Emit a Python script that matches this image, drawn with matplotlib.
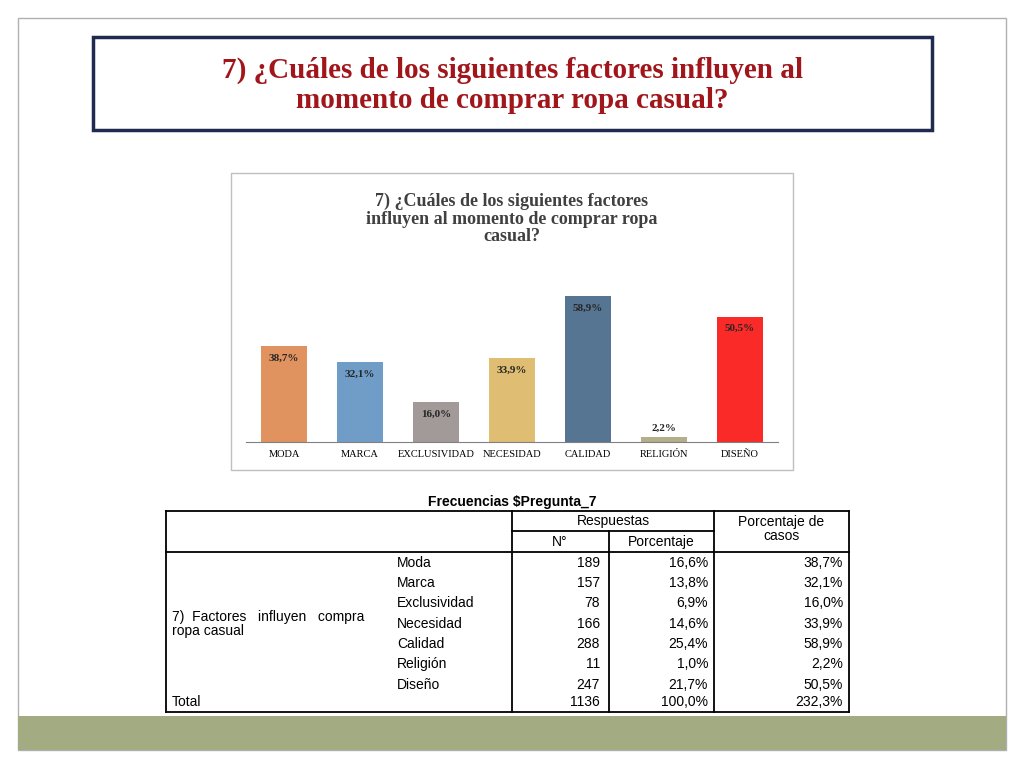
import matplotlib
matplotlib.use("Agg")
import matplotlib.pyplot as plt
from matplotlib.patches import Rectangle

categories = ["MODA", "MARCA", "EXCLUSIVIDAD", "NECESIDAD", "CALIDAD", "RELIGIÓN", "DISEÑO"]
pct_cases = [38.7, 32.1, 16.0, 33.9, 58.9, 2.2, 50.5]
pct_labels = ["38,7%", "32,1%", "16,0%", "33,9%", "58,9%", "2,2%", "50,5%"]
colors = ["#e0935f", "#6f9dc8", "#a19a98", "#dfbd72", "#557593", "#b4ae8a", "#fa2a28"]
row_names = ["Moda", "Marca", "Exclusividad", "Necesidad", "Calidad", "Religión", "Diseño"]
counts = ["189", "157", "78", "166", "288", "11", "247"]
resp_pct = ["16,6%", "13,8%", "6,9%", "14,6%", "25,4%", "1,0%", "21,7%"]
case_pct = ["38,7%", "32,1%", "16,0%", "33,9%", "58,9%", "2,2%", "50,5%"]
total = ["1136", "100,0%", "232,3%"]

W, H = 1024, 768
fig = plt.figure(figsize=(10.24, 7.68), dpi=100)
bg = fig.add_axes([0, 0, 1, 1])
bg.set_xlim(0, W); bg.set_ylim(H, 0); bg.axis("off")

bg.add_patch(Rectangle((18, 18), 988, 732, fill=False, ec="#b0b0b0", lw=1))
bg.add_patch(Rectangle((18, 716), 988, 34, fc="#a3ab82", ec="none"))

bg.add_patch(Rectangle((93, 37), 839, 93, fill=False, ec="#1f2a4e", lw=2.5))
bg.text(512, 85, "7) ¿Cuáles de los siguientes factores influyen al\nmomento de comprar ropa casual?",
        ha="center", va="center", fontsize=21, fontweight="bold", color="#a0161b",
        family="Liberation Serif", linespacing=1.15)

bg.add_patch(Rectangle((231, 173), 562, 297, fill=False, ec="#bfbfbf", lw=1))
bg.text(512, 219, "7) ¿Cuáles de los siguientes factores\ninfluyen al momento de comprar ropa\ncasual?",
        ha="center", va="center", fontsize=13, fontweight="bold", color="#404040",
        family="Liberation Serif", linespacing=1.05)

ax = fig.add_axes([246 / W, 1 - 442 / H, (778 - 246) / W, (442 - 250) / H])
x = list(range(len(categories)))
ax.bar(x, pct_cases, width=0.6, color=colors)
ax.set_xlim(-0.5, len(categories) - 0.5)
ax.set_ylim(0, 58.9 * (442 - 250) / (442 - 296))
for s in ["top", "right", "left"]:
    ax.spines[s].set_visible(False)
ax.spines["bottom"].set_color("#808080")
ax.set_yticks([])
ax.set_xticks(x)
ax.set_xticklabels(categories, fontsize=7.5, family="Liberation Serif")
ax.tick_params(axis="x", length=0, pad=6)
for xi, v, lab in zip(x, pct_cases, pct_labels):
    if v >= 5:
        ax.text(xi, v - 3, lab, ha="center", va="top", fontsize=8, fontweight="bold",
                family="Liberation Serif", color="#262626")
    else:
        ax.text(xi, v + 1.5, lab, ha="center", va="bottom", fontsize=8, fontweight="bold",
                family="Liberation Serif", color="#262626")
ax.patch.set_alpha(0)

tf = "Liberation Sans"
fs = 10
bg.text(512, 502, "Frecuencias $Pregunta_7", ha="center", va="center", fontsize=fs,
        fontweight="bold", family=tf)
lw = 1.3
top, hmid, hbot, bot = 511, 531, 552, 712
bg.plot([166, 849], [top, top], color="k", lw=lw)
bg.plot([166, 849], [bot, bot], color="k", lw=lw)
bg.plot([166, 849], [hbot, hbot], color="k", lw=lw)
bg.plot([512, 714], [hmid, hmid], color="k", lw=lw)
for xv in [166, 512, 714, 849]:
    bg.plot([xv, xv], [top, bot], color="k", lw=lw)
bg.plot([609, 609], [hmid, bot], color="k", lw=lw)
bg.text(613, 521, "Respuestas", ha="center", va="center", fontsize=fs, family=tf)
bg.text(560, 542, "N°", ha="center", va="center", fontsize=fs, family=tf)
bg.text(661, 542, "Porcentaje", ha="center", va="center", fontsize=fs, family=tf)
bg.text(781, 529, "Porcentaje de\ncasos", ha="center", va="center", fontsize=fs, family=tf,
        linespacing=0.95)
ys = [563, 583, 603, 624, 644, 664, 685]
for y, n, c, p, cp in zip(ys, row_names, counts, resp_pct, case_pct):
    bg.text(397, y, n, ha="left", va="center", fontsize=fs, family=tf)
    bg.text(600, y, c, ha="right", va="center", fontsize=fs, family=tf)
    bg.text(708, y, p, ha="right", va="center", fontsize=fs, family=tf)
    bg.text(843, y, cp, ha="right", va="center", fontsize=fs, family=tf)
bg.text(172, 624, "7)  Factores   influyen   compra\nropa casual", ha="left", va="center",
        fontsize=fs, family=tf, linespacing=1.0)
bg.text(172, 702, "Total", ha="left", va="center", fontsize=fs, family=tf)
for xr, t in zip([600, 708, 843], total):
    bg.text(xr, 702, t, ha="right", va="center", fontsize=fs, family=tf)

fig.savefig("out.png", dpi=100)
